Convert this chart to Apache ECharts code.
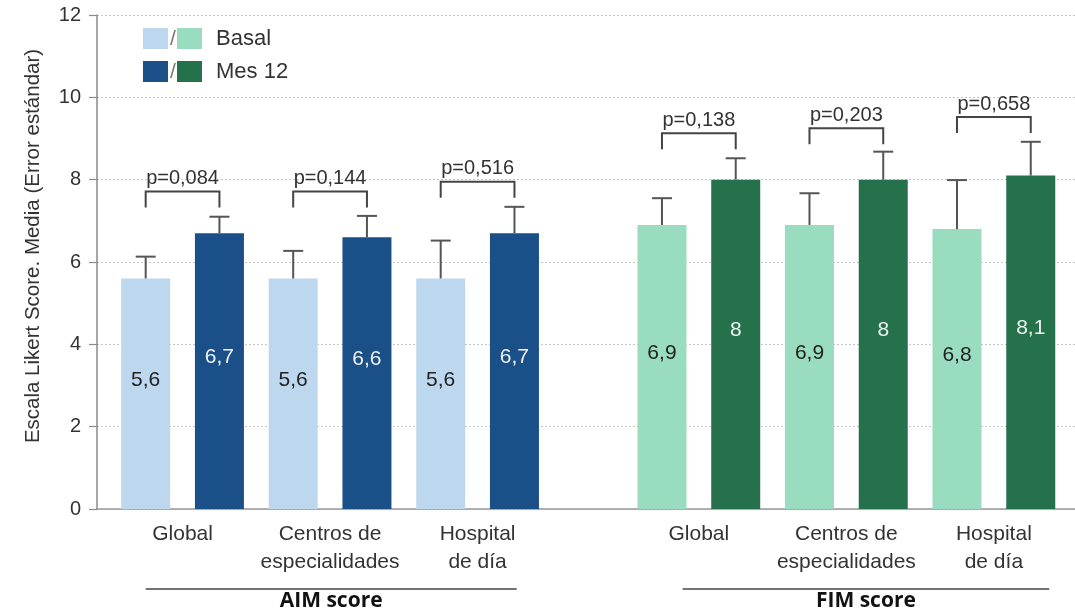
<!DOCTYPE html>
<html>
<head>
<meta charset="utf-8">
<script src="https://cdn.jsdelivr.net/npm/echarts@6/dist/echarts.min.js"></script>
<style>
  html, body { margin: 0; padding: 0; background: #fff; }
  #chart { width: 1075px; height: 611px; }
</style>
</head>
<body>
<div id="chart"></div>
<script>
// Category labels (AIM block, then FIM block)
const categories = ['Global', 'Centros de\nespecialidades', 'Hospital\nde día',
                    'Global', 'Centros de\nespecialidades', 'Hospital\nde día'];
const scoreNames = ['AIM score', 'FIM score'];

// Means
const basal = [5.6, 5.6, 5.6, 6.9, 6.9, 6.8];
const mes12 = [6.7, 6.6, 6.7, 8, 8, 8.1];

// Standard errors
const basalErr = [0.53, 0.67, 0.92, 0.65, 0.77, 1.19];
const mes12Err = [0.40, 0.52, 0.64, 0.52, 0.68, 0.82];

// Comparisons Basal vs Mes 12
const pValues = ['p=0,084', 'p=0,144', 'p=0,516', 'p=0,138', 'p=0,203', 'p=0,658'];
const bracketLevel = [7.71, 7.71, 7.95, 9.13, 9.25, 9.52];

// Y axis ticks
const yTicks = [0, 2, 4, 6, 8, 10, 12];

// Layout: each group occupies two slots, one empty slot separates AIM and FIM
const basalSlot = i => (i < 3 ? 2 * i : 2 * i + 1);
const mesSlot = i => basalSlot(i) + 1;
const scoreSpans = [[0, 5.03], [7.28, 12.25]];

const COLORS = {
  basalAIM: '#bdd7ef', mesAIM: '#1b4f87',
  basalFIM: '#9adcbf', mesFIM: '#24714c'
};
const FONT = '"Liberation Sans", Arial, sans-serif';
const fmt = v => String(v).replace('.', ',');

const basalData = basal.map((v, i) => ({
  value: [basalSlot(i), v],
  itemStyle: { color: i < 3 ? COLORS.basalAIM : COLORS.basalFIM }
}));
const mesData = mes12.map((v, i) => ({
  value: [mesSlot(i), v],
  itemStyle: { color: i < 3 ? COLORS.mesAIM : COLORS.mesFIM }
}));

const errData = basal.map((v, i) => [basalSlot(i), v, basalErr[i]])
  .concat(mes12.map((v, i) => [mesSlot(i), v, mes12Err[i]]));

const bracketData = pValues.map((p, i) => [basalSlot(i), mesSlot(i), bracketLevel[i], i]);
const catData = categories.map((c, i) => [basalSlot(i) + 0.5, i]);
const spanData = scoreSpans.map((s, i) => [s[0], s[1], i]);

const chart = echarts.init(document.getElementById('chart'), null, { renderer: 'canvas' });

const option = {
  backgroundColor: '#fff',
  animation: false,
  grid: { left: 97, right: 0, top: 15, bottom: 102 },
  xAxis: {
    type: 'value', min: -0.66, max: 12.6,
    axisLine: { show: true, onZero: false, lineStyle: { color: '#999', width: 1.5 } },
    axisTick: { show: false }, axisLabel: { show: false }, splitLine: { show: false }
  },
  yAxis: {
    type: 'value', min: yTicks[0], max: yTicks[yTicks.length - 1], interval: 2,
    axisLine: { show: true, onZero: false, lineStyle: { color: '#8a8a8a', width: 1.5 } },
    axisTick: { show: true, length: 8, lineStyle: { color: '#8a8a8a', width: 1.2 } },
    axisLabel: { fontSize: 20, color: '#333', fontFamily: FONT, margin: 16 },
    splitLine: { show: true, lineStyle: { color: '#c4c4c4', type: [2, 2], width: 1 } }
  },
  graphic: [
    // y axis title
    { type: 'text', x: 33, y: 246, rotation: Math.PI / 2,
      style: { text: 'Escala Likert Score. Media (Error estándar)', fontSize: 20.5,
               fontFamily: FONT, fill: '#333', align: 'center', verticalAlign: 'middle' } },
    // legend
    { type: 'rect', shape: { x: 143, y: 28, width: 25, height: 21 }, style: { fill: COLORS.basalAIM } },
    { type: 'text', x: 173, y: 39, style: { text: '/', fontSize: 21, fontFamily: FONT, fill: '#777', align: 'center', verticalAlign: 'middle' } },
    { type: 'rect', shape: { x: 177, y: 28, width: 25, height: 21 }, style: { fill: COLORS.basalFIM } },
    { type: 'text', x: 216, y: 39, style: { text: 'Basal', fontSize: 22, fontFamily: FONT, fill: '#333', verticalAlign: 'middle' } },
    { type: 'rect', shape: { x: 143, y: 61, width: 25, height: 21 }, style: { fill: COLORS.mesAIM } },
    { type: 'text', x: 173, y: 72, style: { text: '/', fontSize: 21, fontFamily: FONT, fill: '#777', align: 'center', verticalAlign: 'middle' } },
    { type: 'rect', shape: { x: 177, y: 61, width: 25, height: 21 }, style: { fill: COLORS.mesFIM } },
    { type: 'text', x: 216, y: 72, style: { text: 'Mes 12', fontSize: 22, fontFamily: FONT, fill: '#333', verticalAlign: 'middle' } }
  ],
  series: [
    {
      name: 'Basal', type: 'bar', data: basalData, barWidth: 49, barGap: '-100%',
      label: { show: true, position: 'inside', offset: [0, -14], fontSize: 21, fontFamily: FONT,
               color: '#222', formatter: p => fmt(p.value[1]) }
    },
    {
      name: 'Mes 12', type: 'bar', data: mesData, barWidth: 49, barGap: '-100%',
      label: { show: true, position: 'inside', offset: [0, -14], fontSize: 21, fontFamily: FONT,
               color: '#eef2f0', formatter: p => fmt(p.value[1]) }
    },
    {
      // error bars: upper whisker with cap
      type: 'custom', data: errData, z: 5,
      renderItem: (params, api) => {
        const x = api.value(0), v = api.value(1), e = api.value(2);
        const base = api.coord([x, v]);
        const top = api.coord([x, v + e]);
        const st = { stroke: '#555', lineWidth: 2 };
        return { type: 'group', children: [
          { type: 'line', shape: { x1: base[0], y1: base[1], x2: top[0], y2: top[1] }, style: st },
          { type: 'line', shape: { x1: top[0] - 10, y1: top[1], x2: top[0] + 10, y2: top[1] }, style: st }
        ] };
      }
    },
    {
      // significance brackets
      type: 'custom', data: bracketData, z: 5,
      renderItem: (params, api) => {
        const a = api.coord([api.value(0), api.value(2)]);
        const b = api.coord([api.value(1), api.value(2)]);
        const idx = api.value(3);
        return { type: 'group', children: [
          { type: 'polyline',
            shape: { points: [[a[0], a[1] + 16], [a[0], a[1]], [b[0], b[1]], [b[0], b[1] + 16]] },
            style: { stroke: '#444', lineWidth: 2, fill: null } },
          { type: 'text', x: (a[0] + b[0]) / 2, y: a[1] - 13,
            style: { text: pValues[idx], fontSize: 20, fontFamily: FONT, fill: '#333',
                     align: 'center', verticalAlign: 'middle' } }
        ] };
      }
    },
    {
      // category labels under each pair of bars
      type: 'custom', data: catData, clip: false,
      renderItem: (params, api) => {
        const p = api.coord([api.value(0), 0]);
        return { type: 'text', x: p[0], y: p[1] + 11,
          style: { text: categories[api.value(1)], fontSize: 21, lineHeight: 28, fontFamily: FONT,
                   fill: '#333', align: 'center', verticalAlign: 'top' } };
      }
    },
    {
      // block headings with underline
      type: 'custom', data: spanData, clip: false,
      renderItem: (params, api) => {
        const a = api.coord([api.value(0), 0]);
        const b = api.coord([api.value(1), 0]);
        const y = a[1] + 80;
        return { type: 'group', children: [
          { type: 'line', shape: { x1: a[0], y1: y, x2: b[0], y2: y },
            style: { stroke: '#444', lineWidth: 1.5 } },
          { type: 'text', x: (a[0] + b[0]) / 2, y: y + 12,
            style: { text: scoreNames[api.value(2)], fontSize: 21, fontWeight: 'bold',
                     fontFamily: '"Open Sans", sans-serif', fill: '#111',
                     align: 'center', verticalAlign: 'middle' } }
        ] };
      }
    }
  ]
};

chart.setOption(option);
</script>
</body>
</html>
